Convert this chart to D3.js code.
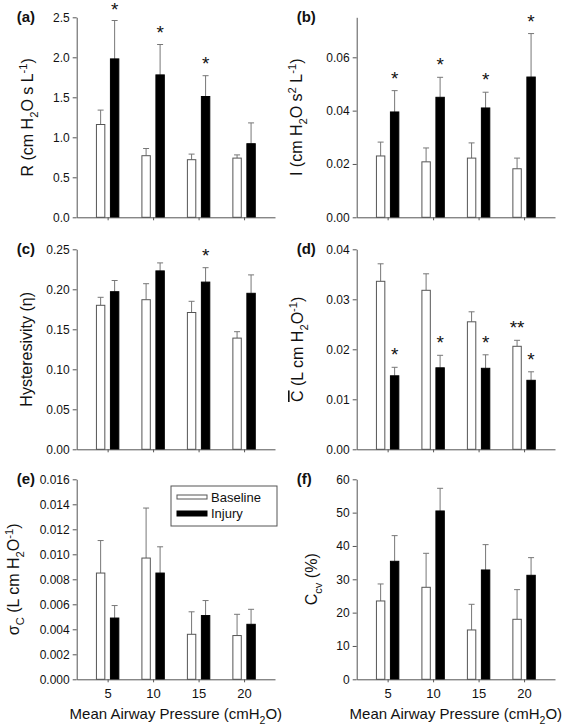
<!DOCTYPE html>
<html><head><meta charset="utf-8">
<script src="https://cdn.jsdelivr.net/npm/d3@7"></script>
<style>
body{margin:0;background:#fff}
svg{display:block}
text{font-family:"Liberation Sans",Arial,Helvetica,sans-serif}
</style>
</head><body>
<svg id="c" width="566" height="724"></svg>
<script>
const pressures = [5, 10, 15, 20];
const seriesNames = ["Baseline", "Injury"];

// (a) R
const R_base = [1.16, 0.77, 0.72, 0.74];
const R_base_sd = [0.18, 0.09, 0.07, 0.04];
const R_inj = [1.98, 1.78, 1.51, 0.92];
const R_inj_sd = [0.48, 0.38, 0.26, 0.26];
const R_base_sig = ["", "", "", ""];
const R_inj_sig = ["*", "*", "*", ""];
const R_ticks = [0, 0.5, 1.0, 1.5, 2.0, 2.5];

// (b) I
const I_base = [0.0230, 0.0208, 0.0222, 0.0182];
const I_base_sd = [0.0052, 0.0052, 0.0057, 0.0040];
const I_inj = [0.0395, 0.0450, 0.0410, 0.0526];
const I_inj_sd = [0.0080, 0.0075, 0.0059, 0.0163];
const I_base_sig = ["", "", "", ""];
const I_inj_sig = ["*", "*", "*", "*"];
const I_ticks = [0, 0.02, 0.04, 0.06];

// (c) Hysteresivity
const H_base = [0.180, 0.187, 0.171, 0.139];
const H_base_sd = [0.010, 0.020, 0.014, 0.008];
const H_inj = [0.197, 0.223, 0.209, 0.195];
const H_inj_sd = [0.014, 0.010, 0.018, 0.023];
const H_base_sig = ["", "", "", ""];
const H_inj_sig = ["", "", "*", ""];
const H_ticks = [0, 0.05, 0.10, 0.15, 0.20, 0.25];

// (d) mean C
const C_base = [0.0336, 0.0318, 0.0255, 0.0206];
const C_base_sd = [0.0035, 0.0033, 0.0020, 0.0012];
const C_inj = [0.0147, 0.0163, 0.0162, 0.0138];
const C_inj_sd = [0.0017, 0.0025, 0.0027, 0.0017];
const C_base_sig = ["", "", "", "**"];
const C_inj_sig = ["*", "*", "*", "*"];
const C_ticks = [0, 0.01, 0.02, 0.03, 0.04];

// (e) sigma C
const S_base = [0.0085, 0.0097, 0.0036, 0.0035];
const S_base_sd = [0.0026, 0.0040, 0.0018, 0.0017];
const S_inj = [0.0049, 0.0085, 0.0051, 0.0044];
const S_inj_sd = [0.0010, 0.0021, 0.0012, 0.0012];
const S_base_sig = ["", "", "", ""];
const S_inj_sig = ["", "", "", ""];
const S_ticks = [0, 0.002, 0.004, 0.006, 0.008, 0.010, 0.012, 0.014, 0.016];

// (f) Ccv
const V_base = [23.5, 27.6, 14.8, 18.0];
const V_base_sd = [5.1, 10.2, 7.7, 8.9];
const V_inj = [35.4, 50.5, 32.8, 31.2];
const V_inj_sd = [7.7, 6.8, 7.6, 5.3];
const V_base_sig = ["", "", "", ""];
const V_inj_sig = ["", "", "", ""];
const V_ticks = [0, 10, 20, 30, 40, 50, 60];

const panels = [
  {label:"(a)", col:0, row:0, base:R_base, baseSd:R_base_sd, inj:R_inj, injSd:R_inj_sd, baseSig:R_base_sig, injSig:R_inj_sig, ticks:R_ticks, yMax:2.5, fmt:".1f",
   title:[["R (cm H"],["2","sub"],["O s L"],["-1","sup"],[")"]], titleX:33},
  {label:"(b)", col:1, row:0, base:I_base, baseSd:I_base_sd, inj:I_inj, injSd:I_inj_sd, baseSig:I_base_sig, injSig:I_inj_sig, ticks:I_ticks, yMax:0.075, fmt:".2f",
   title:[["I (cm H"],["2","sub"],["O s"],["2","sup"],[" L"],["-1","sup"],[")"]], titleX:302},
  {label:"(c)", col:0, row:1, base:H_base, baseSd:H_base_sd, inj:H_inj, injSd:H_inj_sd, baseSig:H_base_sig, injSig:H_inj_sig, ticks:H_ticks, yMax:0.25, fmt:".2f",
   title:[["Hysteresivity (\u03b7)"]], titleX:32},
  {label:"(d)", col:1, row:1, base:C_base, baseSd:C_base_sd, inj:C_inj, injSd:C_inj_sd, baseSig:C_base_sig, injSig:C_inj_sig, ticks:C_ticks, yMax:0.04, fmt:".2f",
   title:[["C","over"],[" (L cm H"],["2","sub"],["O"],["-1","sup"],[")"]], titleX:303},
  {label:"(e)", col:0, row:2, base:S_base, baseSd:S_base_sd, inj:S_inj, injSd:S_inj_sd, baseSig:S_base_sig, injSig:S_inj_sig, ticks:S_ticks, yMax:0.016, fmt:".3f",
   title:[["\u03c3"],["C","sub"],[" (L cm H"],["2","sub"],["O"],["-1","sup"],[")"]], titleX:19},
  {label:"(f)", col:1, row:2, base:V_base, baseSd:V_base_sd, inj:V_inj, injSd:V_inj_sd, baseSig:V_base_sig, injSig:V_inj_sig, ticks:V_ticks, yMax:60, fmt:"d",
   title:[["C"],["cv","sub"],[" (%)"]], titleX:317}
];

const svg = d3.select("#c");
const colX = [76.7, 356.7];
const plotW = 198.3;
const rowY = [[17.3, 217.3], [249.3, 449.3], [479.3, 679.3]];
const axisColor = "#555";
const textColor = "#111";

function richText(textSel, parts, baseSize) {
  let shift = 0;
  parts.forEach(([t, k]) => {
    const ts = textSel.append("tspan").text(t);
    let target = 0, size = baseSize;
    if (k === "sub") { target = baseSize * 0.3; size = baseSize * 0.7; }
    if (k === "sup") { target = -baseSize * 0.4; size = baseSize * 0.7; }
    if (target !== shift) ts.attr("dy", target - shift);
    shift = target;
    ts.attr("font-size", size);
    if (k === "over") ts.style("text-decoration", "overline");
  });
}

panels.forEach(p => {
  const x0 = colX[p.col];
  const [yTop, yBot] = rowY[p.row];
  const x = d3.scaleLinear().domain([1.6, 23.4]).range([x0, x0 + plotW]);
  const y = d3.scaleLinear().domain([0, p.yMax]).range([yBot, yTop]);
  const sub = d3.scaleBand().domain(seriesNames).range([-11.2, 11.2]).paddingInner(0.4);
  const g = svg.append("g");

  const data = [];
  pressures.forEach((pr, i) => {
    data.push({pr, s:"Baseline", v:p.base[i], e:p.baseSd[i], sig:p.baseSig[i]});
    data.push({pr, s:"Injury", v:p.inj[i], e:p.injSd[i], sig:p.injSig[i]});
  });
  const cx = d => x(d.pr) + sub(d.s) + sub.bandwidth() / 2;

  // error bars
  g.selectAll(".eb").data(data).join("line")
    .attr("x1", cx).attr("x2", cx)
    .attr("y1", d => y(d.v)).attr("y2", d => y(d.v + d.e))
    .attr("stroke", "#777").attr("stroke-width", 1);
  g.selectAll(".cap").data(data).join("line")
    .attr("x1", d => cx(d) - 3).attr("x2", d => cx(d) + 3)
    .attr("y1", d => y(d.v + d.e)).attr("y2", d => y(d.v + d.e))
    .attr("stroke", "#777").attr("stroke-width", 1);

  // bars
  g.selectAll(".bar").data(data).join("rect")
    .attr("x", d => x(d.pr) + sub(d.s))
    .attr("width", sub.bandwidth())
    .attr("y", d => y(d.v))
    .attr("height", d => yBot - y(d.v))
    .attr("fill", d => d.s === "Baseline" ? "#fff" : "#000")
    .attr("stroke", d => d.s === "Baseline" ? "#555" : "#000")
    .attr("stroke-width", 1);

  // significance stars
  g.selectAll(".sig").data(data.filter(d => d.sig)).join("text")
    .attr("x", cx)
    .attr("y", d => Math.max(y(d.v + d.e) - 6, 16))
    .attr("text-anchor", "middle")
    .attr("font-size", 19)
    .attr("fill", "#111")
    .text(d => d.sig);

  // y axis
  const ya = g.append("g").attr("transform", `translate(${x0},0)`)
    .call(d3.axisLeft(y).tickValues(p.ticks).tickFormat(d3.format(p.fmt)).tickSize(4).tickSizeOuter(0).tickPadding(3));
  // x axis
  const xa = g.append("g").attr("transform", `translate(0,${yBot})`)
    .call(d3.axisBottom(x).tickValues(pressures).tickSize(3).tickSizeOuter(0).tickPadding(6)
      .tickFormat(p.row === 2 ? d3.format("d") : () => ""));
  [ya, xa].forEach(a => {
    a.select(".domain").attr("stroke", axisColor);
    a.selectAll(".tick line").attr("stroke", axisColor);
    a.selectAll(".tick text").attr("fill", textColor)
      .style("font-family", '"Liberation Sans",Arial,sans-serif');
  });
  ya.selectAll(".tick text").attr("font-size", 12);
  xa.selectAll(".tick text").attr("font-size", 13);

  // panel label
  svg.append("text").attr("x", x0 - 60).attr("y", yTop + 5)
    .attr("font-size", 15).attr("font-weight", "bold").attr("fill", "#111")
    .text(p.label);

  // y title
  const yt = svg.append("text")
    .attr("transform", `translate(${p.titleX},${(yTop + yBot) / 2}) rotate(-90)`)
    .attr("text-anchor", "middle").attr("font-size", 16).attr("fill", textColor);
  richText(yt, p.title, 16);

  // x title
  if (p.row === 2) {
    const xt = svg.append("text")
      .attr("x", x0 + plotW / 2).attr("y", 719)
      .attr("text-anchor", "middle").attr("font-size", 15).attr("fill", textColor);
    richText(xt, [["Mean Airway Pressure (cmH"], ["2", "sub"], ["O)"]], 15);
  }
});

// legend in panel (e)
const leg = svg.append("g");
leg.append("rect").attr("x", 171).attr("y", 486).attr("width", 106).attr("height", 40)
  .attr("fill", "#fff").attr("stroke", "#555");
const legItems = seriesNames.map((s, i) => ({s, i}));
leg.selectAll(".sw").data(legItems).join("rect")
  .attr("x", 177).attr("y", d => 495 + d.i * 16).attr("width", 30).attr("height", d => d.i ? 5 : 4)
  .attr("fill", d => d.i ? "#000" : "#fff").attr("stroke", d => d.i ? "#000" : "#555");
leg.selectAll(".lt").data(legItems).join("text")
  .attr("x", 211).attr("y", d => 502 + d.i * 16)
  .attr("font-size", 13).attr("fill", textColor).text(d => d.s);
</script>
</body></html>
